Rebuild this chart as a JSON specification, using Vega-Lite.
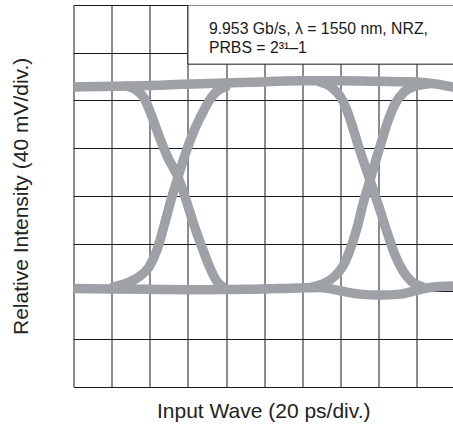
{
  "$schema": "https://vega.github.io/schema/vega-lite/v6.json",
  "width": 379.5,
  "height": 381.7,
  "autosize": {"type": "none"},
  "padding": {"left": 73.5, "top": 5, "right": 0, "bottom": 39.3},
  "background": "white",
  "config": {
    "view": {"stroke": null},
    "font": "Liberation Sans",
    "axis": {
      "labels": false, "ticks": false, "domain": false, "grid": true,
      "gridColor": "#1a1a1a", "gridWidth": 1, "gridOpacity": 1,
      "titleFont": "Liberation Sans", "titleFontSize": 21, "titleFontWeight": "normal", "titleColor": "#222222"
    }
  },
  "datasets": {
    "curves": [
      {"s": "top", "i": 0, "x": 0, "y": 6.28},
      {"s": "top", "i": 1, "x": 0.69, "y": 6.29},
      {"s": "top", "i": 2, "x": 1.48, "y": 6.30},
      {"s": "top", "i": 3, "x": 2.27, "y": 6.32},
      {"s": "top", "i": 4, "x": 3.32, "y": 6.35},
      {"s": "top", "i": 5, "x": 4.63, "y": 6.38},
      {"s": "top", "i": 6, "x": 5.94, "y": 6.41},
      {"s": "top", "i": 7, "x": 6.99, "y": 6.41},
      {"s": "top", "i": 8, "x": 8.04, "y": 6.40},
      {"s": "top", "i": 9, "x": 8.82, "y": 6.39},
      {"s": "top", "i": 10, "x": 9.35, "y": 6.36},
      {"s": "top", "i": 11, "x": 9.95, "y": 6.28},
      {"s": "bottom", "i": 0, "x": 0, "y": 2.06},
      {"s": "bottom", "i": 1, "x": 0.96, "y": 2.05},
      {"s": "bottom", "i": 2, "x": 1.98, "y": 2.04},
      {"s": "bottom", "i": 3, "x": 3.32, "y": 2.03},
      {"s": "bottom", "i": 4, "x": 4.63, "y": 2.04},
      {"s": "bottom", "i": 5, "x": 5.94, "y": 2.07},
      {"s": "bottom", "i": 6, "x": 6.46, "y": 2.08},
      {"s": "bottom", "i": 7, "x": 6.99, "y": 2.01},
      {"s": "bottom", "i": 8, "x": 7.51, "y": 1.94},
      {"s": "bottom", "i": 9, "x": 8.04, "y": 1.92},
      {"s": "bottom", "i": 10, "x": 8.56, "y": 1.94},
      {"s": "bottom", "i": 11, "x": 8.95, "y": 2.01},
      {"s": "bottom", "i": 12, "x": 9.35, "y": 2.08},
      {"s": "bottom", "i": 13, "x": 9.95, "y": 2.11},
      {"s": "fall1", "i": 0, "x": 1.376, "y": 6.303},
      {"s": "fall1", "i": 1, "x": 1.639, "y": 6.219},
      {"s": "fall1", "i": 2, "x": 1.848, "y": 6.051},
      {"s": "fall1", "i": 3, "x": 2.032, "y": 5.716},
      {"s": "fall1", "i": 4, "x": 2.242, "y": 5.255},
      {"s": "fall1", "i": 5, "x": 2.478, "y": 4.794},
      {"s": "fall1", "i": 6, "x": 2.740, "y": 4.396},
      {"s": "fall1", "i": 7, "x": 2.950, "y": 3.914},
      {"s": "fall1", "i": 8, "x": 3.159, "y": 3.390},
      {"s": "fall1", "i": 9, "x": 3.395, "y": 2.866},
      {"s": "fall1", "i": 10, "x": 3.578, "y": 2.489},
      {"s": "fall1", "i": 11, "x": 3.736, "y": 2.237},
      {"s": "fall1", "i": 12, "x": 3.972, "y": 2.058},
      {"s": "rise1", "i": 0, "x": 1.036, "y": 2.090},
      {"s": "rise1", "i": 1, "x": 1.403, "y": 2.174},
      {"s": "rise1", "i": 2, "x": 1.744, "y": 2.320},
      {"s": "rise1", "i": 3, "x": 1.980, "y": 2.509},
      {"s": "rise1", "i": 4, "x": 2.189, "y": 2.866},
      {"s": "rise1", "i": 5, "x": 2.373, "y": 3.369},
      {"s": "rise1", "i": 6, "x": 2.557, "y": 3.914},
      {"s": "rise1", "i": 7, "x": 2.740, "y": 4.396},
      {"s": "rise1", "i": 8, "x": 2.950, "y": 4.920},
      {"s": "rise1", "i": 9, "x": 3.159, "y": 5.360},
      {"s": "rise1", "i": 10, "x": 3.369, "y": 5.716},
      {"s": "rise1", "i": 11, "x": 3.553, "y": 5.989},
      {"s": "rise1", "i": 12, "x": 3.736, "y": 6.177},
      {"s": "rise1", "i": 13, "x": 3.999, "y": 6.282},
      {"s": "fall2", "i": 0, "x": 6.463, "y": 6.386},
      {"s": "fall2", "i": 1, "x": 6.751, "y": 6.282},
      {"s": "fall2", "i": 2, "x": 6.987, "y": 6.093},
      {"s": "fall2", "i": 3, "x": 7.145, "y": 5.842},
      {"s": "fall2", "i": 4, "x": 7.302, "y": 5.485},
      {"s": "fall2", "i": 5, "x": 7.486, "y": 5.003},
      {"s": "fall2", "i": 6, "x": 7.617, "y": 4.689},
      {"s": "fall2", "i": 7, "x": 7.774, "y": 4.333},
      {"s": "fall2", "i": 8, "x": 7.984, "y": 3.830},
      {"s": "fall2", "i": 9, "x": 8.220, "y": 3.243},
      {"s": "fall2", "i": 10, "x": 8.430, "y": 2.761},
      {"s": "fall2", "i": 11, "x": 8.639, "y": 2.426},
      {"s": "fall2", "i": 12, "x": 8.849, "y": 2.216},
      {"s": "fall2", "i": 13, "x": 9.137, "y": 2.100},
      {"s": "rise2", "i": 0, "x": 6.253, "y": 2.090},
      {"s": "rise2", "i": 1, "x": 6.594, "y": 2.174},
      {"s": "rise2", "i": 2, "x": 6.856, "y": 2.320},
      {"s": "rise2", "i": 3, "x": 7.066, "y": 2.530},
      {"s": "rise2", "i": 4, "x": 7.250, "y": 2.866},
      {"s": "rise2", "i": 5, "x": 7.433, "y": 3.327},
      {"s": "rise2", "i": 6, "x": 7.590, "y": 3.830},
      {"s": "rise2", "i": 7, "x": 7.774, "y": 4.333},
      {"s": "rise2", "i": 8, "x": 7.931, "y": 4.752},
      {"s": "rise2", "i": 9, "x": 8.089, "y": 5.171},
      {"s": "rise2", "i": 10, "x": 8.246, "y": 5.570},
      {"s": "rise2", "i": 11, "x": 8.430, "y": 5.925},
      {"s": "rise2", "i": 12, "x": 8.666, "y": 6.177},
      {"s": "rise2", "i": 13, "x": 8.980, "y": 6.303},
      {"s": "rise2", "i": 14, "x": 9.295, "y": 6.345}
    ]
  },
  "layer": [
    {
      "data": {"name": "curves"},
      "mark": {"type": "line", "strokeWidth": 9.5, "color": "#9ea2a7", "interpolate": "monotone", "strokeCap": "round", "strokeJoin": "round", "clip": true},
      "encoding": {
        "x": {"field": "x", "type": "quantitative", "scale": {"domain": [0, 9.95], "nice": false, "zero": false},
              "axis": {"orient": "bottom", "title": "Input Wave (20 ps/div.)", "values": [0,1,2,3,4,5,6,7,8,9], "titlePadding": 14}},
        "y": {"field": "y", "type": "quantitative", "scale": {"domain": [0, 8], "nice": false, "zero": false},
              "axis": {"orient": "left", "title": "Relative Intensity (40 mV/div.)", "values": [0,1,2,3,4,5,6,7,8], "titlePadding": 42}},
        "detail": {"field": "s", "type": "nominal"},
        "order": {"field": "i", "type": "quantitative"}
      }
    },
    {
      "data": {"values": [{"label": "box"}]},
      "mark": {"type": "rect", "fill": "white", "stroke": "#1a1a1a", "strokeWidth": 1, "clip": true},
      "encoding": {
        "x": {"datum": 3, "type": "quantitative"},
        "x2": {"datum": 10},
        "y": {"datum": 6.76, "type": "quantitative"},
        "y2": {"datum": 8}
      }
    },
    {
      "data": {"values": [{"label": ["9.953 Gb/s, \u03bb = 1550 nm, NRZ,", "PRBS = 2\u00b3\u00b9\u20131"]}]},
      "mark": {"type": "text", "align": "left", "baseline": "alphabetic", "fontSize": 15.8, "font": "Liberation Sans", "lineHeight": 18.7, "color": "#1a1a1a"},
      "encoding": {
        "x": {"datum": 3.55, "type": "quantitative"},
        "y": {"datum": 7.39, "type": "quantitative"},
        "text": {"field": "label"}
      }
    }
  ]
}
